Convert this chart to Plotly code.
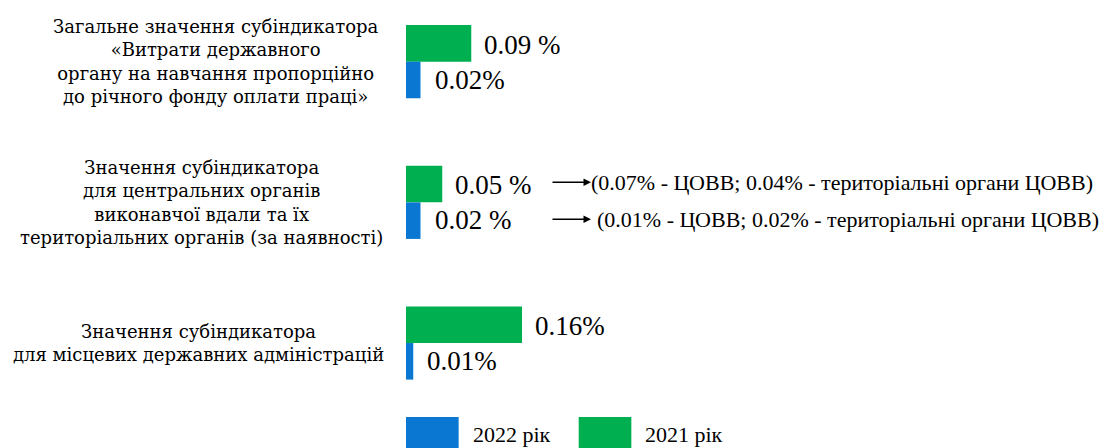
import plotly.graph_objects as go

# дані
categories = [
    "Загальне значення субіндикатора<br>«Витрати державного<br>органу на навчання пропорційно<br>до річного фонду оплати праці»",
    "Значення субіндикатора<br>для центральних органів<br>виконавчої вдали та їх<br>територіальних органів (за наявності)",
    "Значення субіндикатора<br>для місцевих державних адміністрацій",
]
values_2021 = [0.09, 0.05, 0.16]
values_2022 = [0.02, 0.02, 0.01]
labels_2021 = ["0.09 %", "0.05 %", "0.16%"]
labels_2022 = ["0.02%", "0.02 %", "0.01%"]
notes = [
    ("2021", "(0.07% - ЦОВВ; 0.04% - територіальні органи ЦОВВ)"),
    ("2022", "(0.01% - ЦОВВ; 0.02% - територіальні органи ЦОВВ)"),
]
series_names = ["2022 рік", "2021 рік"]

GREEN = "#00b050"
BLUE = "#0a78d2"
SERIF = "Liberation Serif, Times New Roman, serif"
WIDE_SERIF = "DejaVu Serif, serif"

fig = go.Figure()
fig.add_trace(go.Bar(y=categories, x=values_2021, orientation="h", name=series_names[1],
                     marker=dict(color=GREEN, line=dict(width=0))))
fig.add_trace(go.Bar(y=categories, x=values_2022, orientation="h", name=series_names[0],
                     marker=dict(color=BLUE, line=dict(width=0))))

annotations = []
# підписи категорій ліворуч
label_x = [-0.271, -0.292, -0.295]
for cat, lx in zip(categories, label_x):
    annotations.append(dict(x=lx, y=cat, xref="paper", yref="y", text=cat, showarrow=False,
                            xanchor="center", yanchor="middle", align="center",
                            font=dict(family=WIDE_SERIF, size=18, color="black")))

# значення біля стовпців
for cat, v, t in zip(categories, values_2021, labels_2021):
    annotations.append(dict(x=v, y=cat, text=t, showarrow=False, xanchor="left", xshift=11,
                            yshift=17, font=dict(family=SERIF, size=27, color="black")))
for cat, v, t in zip(categories, values_2022, labels_2022):
    annotations.append(dict(x=v, y=cat, text=t, showarrow=False, xanchor="left", xshift=12,
                            yshift=-18, font=dict(family=SERIF, size=27, color="black")))

# стрілки з розшифровкою для ЦОВВ
for (yr, txt), ys, tx in zip(notes, [20, -17], [0.2605, 0.269]):
    annotations.append(dict(x=0.2635, y=categories[1], xref="paper", yref="y", text="",
                            showarrow=True, ax=-40, ay=0, arrowhead=2, arrowsize=1,
                            arrowwidth=1.5, arrowcolor="black", yshift=ys))
    annotations.append(dict(x=tx, y=categories[1], xref="paper", yref="y", text=txt,
                            showarrow=False, xanchor="left", yshift=ys,
                            font=dict(family=SERIF, size=22, color="black")))

# легенда
shapes = []
for name, color, x0, tx in [(series_names[0], BLUE, 0.0, 0.0926), (series_names[1], GREEN, 0.246, 0.3376)]:
    shapes.append(dict(type="rect", xref="paper", yref="paper", x0=x0, x1=x0 + 0.075,
                       y0=-0.15, y1=-0.0425, fillcolor=color, line=dict(width=0)))
    annotations.append(dict(x=tx, y=-0.0875, xref="paper", yref="paper", text=name,
                            showarrow=False, xanchor="left", yanchor="middle",
                            font=dict(family=SERIF, size=22, color="black")))

fig.update_layout(
    width=1108, height=448,
    margin=dict(l=406, r=0, t=0, b=48),
    barmode="group", bargap=0.48, bargroupgap=0,
    plot_bgcolor="white", paper_bgcolor="white",
    showlegend=False,
    annotations=annotations, shapes=shapes,
)
fig.update_xaxes(range=[0, 0.968], visible=False)
fig.update_yaxes(range=[2.405, -0.4385], showticklabels=False, showgrid=False,
                 zeroline=False, showline=False, ticks="")

fig.write_html("out.html", config={"displayModeBar": False},
               post_script="document.body.style.margin='0';")
